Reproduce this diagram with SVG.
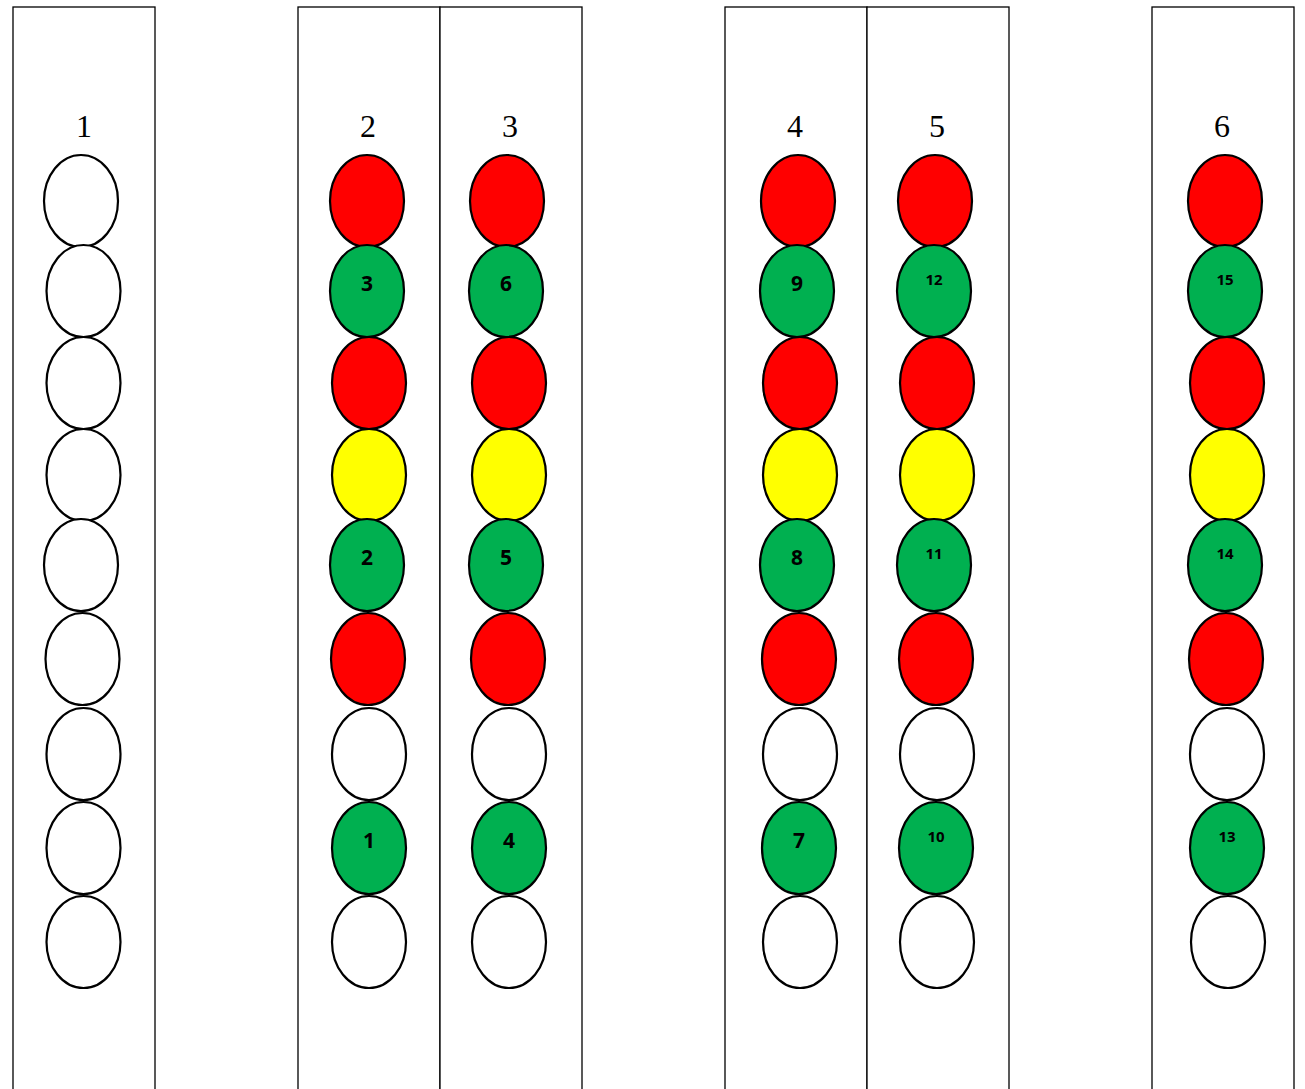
<svg xmlns="http://www.w3.org/2000/svg" width="1305" height="1089" viewBox="0 0 1305 1089">
<style>
.col{fill:#fff;stroke:#000;stroke-width:1.3}
.e{stroke:#000;stroke-width:2.2}
.w{fill:#fff}.r{fill:#ff0000}.g{fill:#00b050}.y{fill:#ffff00}
.t{font-family:"Liberation Serif","Times New Roman",serif;font-size:32px;text-anchor:middle;fill:#000}
.n{font-family:"Open Sans","Liberation Sans",sans-serif;font-weight:bold;font-size:21px;text-anchor:middle;fill:#000}
.s{font-family:"Open Sans","Liberation Sans",sans-serif;font-weight:bold;font-size:15px;text-anchor:middle;fill:#000}
</style>
<rect width="1305" height="1089" fill="#fff"/>
<g id="frames">
<rect class="col" x="13" y="7" width="142" height="1100"/>
<rect class="col" x="298" y="7" width="142" height="1100"/>
<rect class="col" x="440" y="7" width="142" height="1100"/>
<rect class="col" x="725" y="7" width="142" height="1100"/>
<rect class="col" x="867" y="7" width="142" height="1100"/>
<rect class="col" x="1152" y="7" width="142" height="1100"/>
</g>
<g id="col1">
<text class="t" x="84" y="137">1</text>
<ellipse class="e w" cx="81" cy="201" rx="37" ry="46"/>
<ellipse class="e w" cx="83.5" cy="291" rx="37" ry="46"/>
<ellipse class="e w" cx="83.5" cy="383" rx="37" ry="46"/>
<ellipse class="e w" cx="83.5" cy="475" rx="37" ry="46"/>
<ellipse class="e w" cx="81" cy="565" rx="37" ry="46"/>
<ellipse class="e w" cx="82.5" cy="659" rx="37" ry="46"/>
<ellipse class="e w" cx="83.5" cy="754" rx="37" ry="46"/>
<ellipse class="e w" cx="83.5" cy="848" rx="37" ry="46"/>
<ellipse class="e w" cx="83.5" cy="942" rx="37" ry="46"/>
</g>
<g id="col2">
<text class="t" x="368" y="137">2</text>
<ellipse class="e r" cx="367" cy="201" rx="37" ry="46"/>
<ellipse class="e g" cx="367" cy="291" rx="37" ry="46"/>
<ellipse class="e r" cx="369" cy="383" rx="37" ry="46"/>
<ellipse class="e y" cx="369" cy="475" rx="37" ry="46"/>
<ellipse class="e g" cx="367" cy="565" rx="37" ry="46"/>
<ellipse class="e r" cx="368" cy="659" rx="37" ry="46"/>
<ellipse class="e w" cx="369" cy="754" rx="37" ry="46"/>
<ellipse class="e g" cx="369" cy="848" rx="37" ry="46"/>
<ellipse class="e w" cx="369" cy="942" rx="37" ry="46"/>
<text class="n" x="367" y="291">3</text>
<text class="n" x="367" y="565">2</text>
<text class="n" x="369" y="848">1</text>
</g>
<g id="col3">
<text class="t" x="510" y="137">3</text>
<ellipse class="e r" cx="507" cy="201" rx="37" ry="46"/>
<ellipse class="e g" cx="506" cy="291" rx="37" ry="46"/>
<ellipse class="e r" cx="509" cy="383" rx="37" ry="46"/>
<ellipse class="e y" cx="509" cy="475" rx="37" ry="46"/>
<ellipse class="e g" cx="506" cy="565" rx="37" ry="46"/>
<ellipse class="e r" cx="508" cy="659" rx="37" ry="46"/>
<ellipse class="e w" cx="509" cy="754" rx="37" ry="46"/>
<ellipse class="e g" cx="509" cy="848" rx="37" ry="46"/>
<ellipse class="e w" cx="509" cy="942" rx="37" ry="46"/>
<text class="n" x="506" y="291">6</text>
<text class="n" x="506" y="565">5</text>
<text class="n" x="509" y="848">4</text>
</g>
<g id="col4">
<text class="t" x="795" y="137">4</text>
<ellipse class="e r" cx="798" cy="201" rx="37" ry="46"/>
<ellipse class="e g" cx="797" cy="291" rx="37" ry="46"/>
<ellipse class="e r" cx="800" cy="383" rx="37" ry="46"/>
<ellipse class="e y" cx="800" cy="475" rx="37" ry="46"/>
<ellipse class="e g" cx="797" cy="565" rx="37" ry="46"/>
<ellipse class="e r" cx="799" cy="659" rx="37" ry="46"/>
<ellipse class="e w" cx="800" cy="754" rx="37" ry="46"/>
<ellipse class="e g" cx="799" cy="848" rx="37" ry="46"/>
<ellipse class="e w" cx="800" cy="942" rx="37" ry="46"/>
<text class="n" x="797" y="291">9</text>
<text class="n" x="797" y="565">8</text>
<text class="n" x="799" y="848">7</text>
</g>
<g id="col5">
<text class="t" x="937" y="137">5</text>
<ellipse class="e r" cx="935" cy="201" rx="37" ry="46"/>
<ellipse class="e g" cx="934" cy="291" rx="37" ry="46"/>
<ellipse class="e r" cx="937" cy="383" rx="37" ry="46"/>
<ellipse class="e y" cx="937" cy="475" rx="37" ry="46"/>
<ellipse class="e g" cx="934" cy="565" rx="37" ry="46"/>
<ellipse class="e r" cx="936" cy="659" rx="37" ry="46"/>
<ellipse class="e w" cx="937" cy="754" rx="37" ry="46"/>
<ellipse class="e g" cx="936" cy="848" rx="37" ry="46"/>
<ellipse class="e w" cx="937" cy="942" rx="37" ry="46"/>
<text class="s" x="934" y="285">12</text>
<text class="s" x="934" y="559">11</text>
<text class="s" x="936" y="842">10</text>
</g>
<g id="col6">
<text class="t" x="1222" y="137">6</text>
<ellipse class="e r" cx="1225" cy="201" rx="37" ry="46"/>
<ellipse class="e g" cx="1225" cy="291" rx="37" ry="46"/>
<ellipse class="e r" cx="1227" cy="383" rx="37" ry="46"/>
<ellipse class="e y" cx="1227" cy="475" rx="37" ry="46"/>
<ellipse class="e g" cx="1225" cy="565" rx="37" ry="46"/>
<ellipse class="e r" cx="1226" cy="659" rx="37" ry="46"/>
<ellipse class="e w" cx="1227" cy="754" rx="37" ry="46"/>
<ellipse class="e g" cx="1227" cy="848" rx="37" ry="46"/>
<ellipse class="e w" cx="1228" cy="942" rx="37" ry="46"/>
<text class="s" x="1225" y="285">15</text>
<text class="s" x="1225" y="559">14</text>
<text class="s" x="1227" y="842">13</text>
</g>
<g id="connectors"></g>
</svg>
